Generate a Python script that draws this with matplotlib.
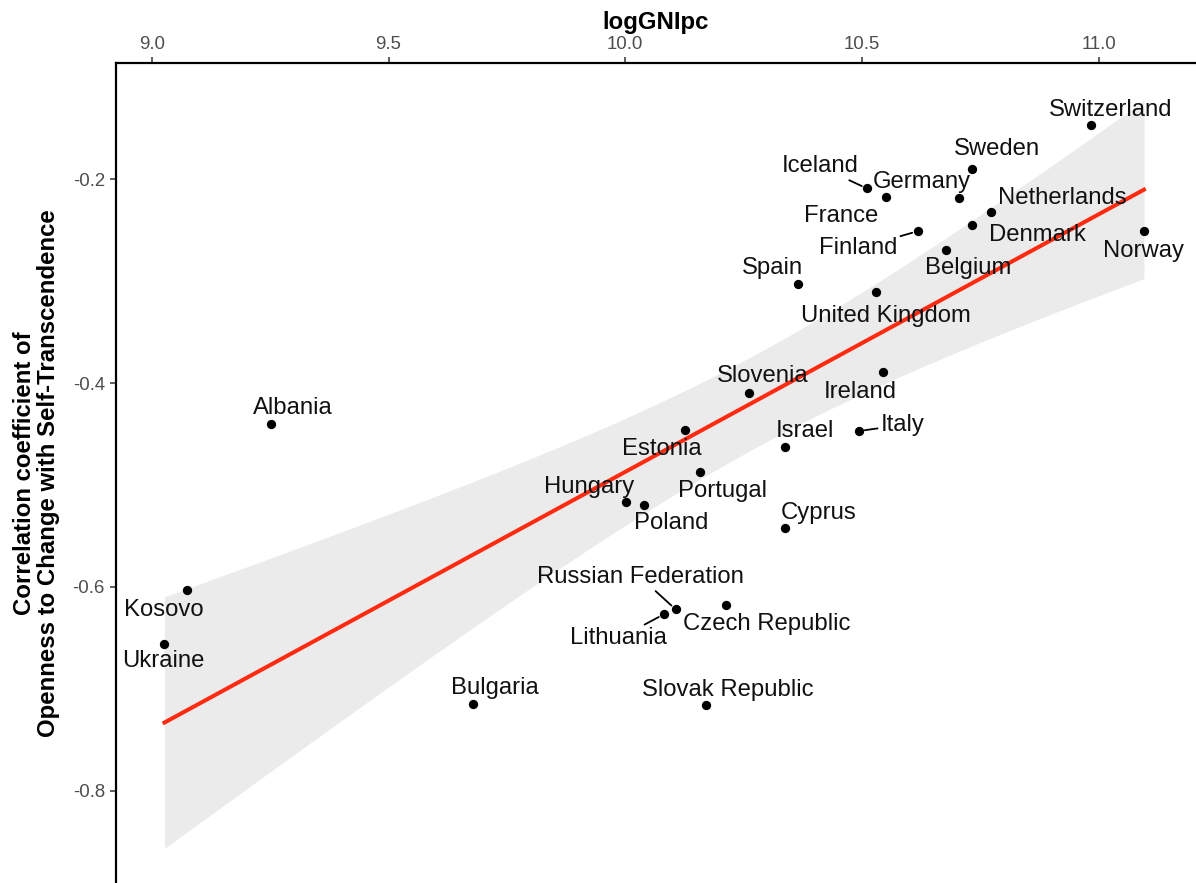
import matplotlib
matplotlib.use('Agg')
import matplotlib.pyplot as plt
import numpy as np

plt.rcParams['font.family'] = ['Liberation Sans', 'DejaVu Sans']

countries = ['Switzerland', 'Sweden', 'Iceland', 'Germany', 'France', 'Netherlands',
             'Denmark', 'Finland', 'Belgium', 'Norway', 'United Kingdom', 'Spain',
             'Slovenia', 'Ireland', 'Estonia', 'Italy', 'Israel', 'Portugal',
             'Hungary', 'Poland', 'Cyprus', 'Russian Federation', 'Lithuania',
             'Czech Republic', 'Slovak Republic', 'Kosovo', 'Ukraine', 'Bulgaria',
             'Albania']
log_gni = [10.983, 10.731, 10.510, 10.705, 10.550, 10.772,
           10.731, 10.617, 10.677, 11.095, 10.530, 10.364,
           10.262, 10.545, 10.125, 10.494, 10.337, 10.158,
           10.002, 10.040, 10.337, 10.106, 10.081,
           10.212, 10.170, 9.075, 9.027, 9.679,
           9.252]
corr = [-0.147, -0.190, -0.209, -0.218, -0.217, -0.232,
        -0.245, -0.251, -0.269, -0.251, -0.311, -0.303,
        -0.410, -0.389, -0.446, -0.447, -0.463, -0.487,
        -0.517, -0.520, -0.542, -0.622, -0.627,
        -0.618, -0.716, -0.603, -0.656, -0.715,
        -0.440]

# label placement (pixel offsets from the point, x right / y up) - repel style
label_dx = [20, 25, -47, -37, -45, 71, 66, -59, 22, 0, 10, -25,
            13, -23, -23, 43, 20, 22, -37, 27, 34, -35, -45,
            41, 22, -23, -1, 22, 22]
label_dy = [15, 20, 22, 16, -19, 14, -10, -17, -18, -20, -24, 16,
            17, -20, -19, 6, 16, -19, 15, -18, 15, 32, -24,
            -19, 15, -20, -17, 16, 16]
segment = ['Iceland', 'Netherlands', 'Finland', 'Italy', 'Russian Federation', 'Lithuania']

x = np.array(log_gni)
y = np.array(corr)

# linear fit with 95% confidence band
n = len(x)
slope, intercept = np.polyfit(x, y, 1)
resid = y - (slope * x + intercept)
s = np.sqrt(np.sum(resid ** 2) / (n - 2))
sxx = np.sum((x - x.mean()) ** 2)
t_crit = 2.0518
xs = np.linspace(x.min(), x.max(), 200)
ys = slope * xs + intercept
half = t_crit * s * np.sqrt(1.0 / n + (xs - x.mean()) ** 2 / sxx)

fig = plt.figure(figsize=(11.96, 8.83), dpi=100)
ax = fig.add_axes([116 / 1196, 0, 1080 / 1196, (883 - 62.7) / 883])

ax.fill_between(xs, ys - half, ys + half, color='#EBEBEB', linewidth=0, zorder=1)
ax.plot(xs, ys, color='#FF2A10', linewidth=2.9, zorder=2)
ax.scatter(x, y, s=45, color='black', zorder=3, linewidths=0)

for i, name in enumerate(countries):
    props = None
    if name in segment:
        props = dict(arrowstyle='-', color='black', lw=1.3, shrinkA=0, shrinkB=4)
    ax.annotate(name, (x[i], y[i]), xytext=(label_dx[i], label_dy[i]),
                textcoords='offset pixels', ha='center', va='center',
                fontsize=17.2, color='#111111', arrowprops=props, zorder=4)

ax.set_xlim(8.9246, 11.205)
ax.set_ylim(-0.8906, -0.0856)
ax.set_xticks([9.0, 9.5, 10.0, 10.5, 11.0])
ax.set_xticklabels(['9.0', '9.5', '10.0', '10.5', '11.0'])
ax.set_yticks([-0.2, -0.4, -0.6, -0.8])
ax.set_yticklabels(['-0.2', '-0.4', '-0.6', '-0.8'])

ax.xaxis.tick_top()
ax.xaxis.set_label_position('top')
ax.tick_params(axis='both', direction='out', length=4, width=1.1, color='#333333',
               labelsize=13.4, labelcolor='#4D4D4D')
ax.tick_params(axis='x', pad=3)
ax.tick_params(axis='y', pad=4)

for side in ['bottom', 'right']:
    ax.spines[side].set_visible(False)
for side in ['top', 'left']:
    ax.spines[side].set_linewidth(1.6)
    ax.spines[side].set_color('black')

ax.set_xlabel('logGNIpc', fontsize=17.3, fontweight='bold', labelpad=5)
ax.set_ylabel('Correlation coefficient of\nOpenness to Change with Self-Transcendence',
              fontsize=17.3, fontweight='bold', labelpad=9, linespacing=1.05)

fig.savefig('out.png', dpi=100)
